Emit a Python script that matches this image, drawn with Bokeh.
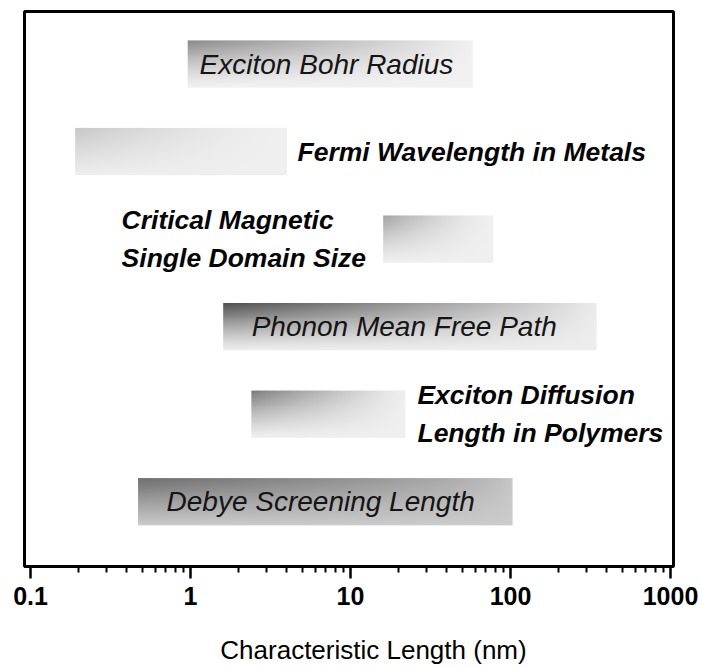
import numpy as np
from bokeh.plotting import figure
from bokeh.models import Range1d, FixedTicker, CustomJSTickFormatter, Label, ColumnDataSource
from bokeh.core.properties import value
from bokeh.embed import file_html
from bokeh.resources import INLINE

# ---------------- data ----------------
names = ["Exciton Bohr Radius",
         "Fermi Wavelength in Metals",
         "Critical Magnetic\nSingle Domain Size",
         "Phonon Mean Free Path",
         "Exciton Diffusion\nLength in Polymers",
         "Debye Screening Length"]
rows = [6, 5, 4, 3, 2, 1]
low_nm = [0.96, 0.19, 16.0, 1.6, 2.4, 0.47]
high_nm = [58.0, 4.0, 78.0, 345.0, 22.0, 103.0]
label_x_nm = [1.14, 4.66, 0.371, 2.41, 26.2, 0.708]
label_inside = [True, False, False, True, False, True]
tick_values = [0.1, 1, 10, 100, 1000]
tick_labels = ["0.1", "1", "10", "100", "1000"]
x_title = "Characteristic Length (nm)"

# ---------------- style ----------------
BAR_H = 0.54
# (darkest grey at top-left, lightest grey, vertical falloff, horizontal falloff)
shade = [(0x8a, 0xf2, 1.3, 1.0),
         (0xc8, 0xf0, 1.0, 1.5),
         (0xa4, 0xf0, 1.2, 1.5),
         (0x50, 0xee, 1.2, 0.9),
         (0x7c, 0xf0, 1.2, 1.2),
         (0x70, 0xcc, 1.0, 0.6)]
FONT = "Liberation Sans"

p = figure(width=701, height=666, x_axis_type="log",
           x_range=Range1d(0.0917, 1044), y_range=Range1d(0.26, 6.6),
           output_backend="svg", toolbar_location=None, y_axis_location=None,
           min_border_left=24, min_border_right=28, min_border_top=11, min_border_bottom=100)
p.background_fill_color = "white"
p.border_fill_color = "white"
p.xgrid.visible = False
p.ygrid.visible = False
p.outline_line_color = "black"
p.outline_line_width = 3
p.outline_line_alpha = 1.0

# gradient images for bars
H, W = 48, 256
u = (np.arange(W) + 0.5) / W
near_top = (np.arange(H) + 0.5) / H  # row 0 is the bottom of the image
imgs = []
for d, l, pv, ph in shade:
    f = np.outer(near_top ** pv, (1 - u) ** ph)
    g = np.clip(l - (l - d) * f, 0, 255).astype(np.uint8)
    img = np.empty((H, W), dtype=np.uint32)
    view = img.view(dtype=np.uint8).reshape((H, W, 4))
    view[..., 0] = g
    view[..., 1] = g
    view[..., 2] = g
    view[..., 3] = 255
    imgs.append(img)

p.image_rgba(image=imgs, x=low_nm, y=[r - BAR_H / 2 for r in rows],
             dw=[h - l for l, h in zip(low_nm, high_nm)], dh=[BAR_H] * len(rows))

inside = ColumnDataSource(dict(
    x=[x for x, i in zip(label_x_nm, label_inside) if i],
    y=[r for r, i in zip(rows, label_inside) if i],
    t=[n for n, i in zip(names, label_inside) if i]))
outside = ColumnDataSource(dict(
    x=[x for x, i in zip(label_x_nm, label_inside) if not i],
    y=[r for r, i in zip(rows, label_inside) if not i],
    t=[n for n, i in zip(names, label_inside) if not i]))

p.text(x="x", y="y", text="t", source=inside, text_font=value(FONT),
       text_font_style="italic", text_font_size="28px", text_baseline="middle",
       text_align="left", text_color="#151515")
p.text(x="x", y="y", text="t", source=outside, text_font=value(FONT),
       text_font_style="bold italic", text_font_size="26.5px", text_baseline="middle",
       text_align="left", text_color="#050505", text_line_height=1.25)

ax = p.xaxis[0]
ax.ticker = FixedTicker(ticks=tick_values,
                        minor_ticks=[m * 10.0 ** e for e in range(-1, 3) for m in range(2, 10)])
ax.formatter = CustomJSTickFormatter(
    args=dict(values=tick_values, labels=tick_labels),
    code="""
    for (let i = 0; i < values.length; i++) {
        if (Math.abs(Math.log10(values[i]) - Math.log10(tick)) < 1e-6) return labels[i];
    }
    return '';
    """)
ax.major_label_text_font = FONT
ax.major_label_text_font_size = "25px"
ax.major_label_text_font_style = "bold"
ax.major_label_text_color = "black"
ax.major_label_standoff = 8
ax.axis_line_width = 3
ax.axis_line_color = "black"
ax.major_tick_in = 0
ax.major_tick_out = 12
ax.major_tick_line_width = 2.5
ax.major_tick_line_color = "black"
ax.minor_tick_in = 0
ax.minor_tick_out = 6
ax.minor_tick_line_width = 2
ax.minor_tick_line_color = "black"

p.add_layout(Label(x=349, y=-12, x_units="screen", y_units="screen", text=x_title,
                   text_align="center", text_baseline="middle",
                   text_font=FONT, text_font_size="26px", text_color="black"), "below")

open("out.html", "w").write(file_html(p, INLINE))
